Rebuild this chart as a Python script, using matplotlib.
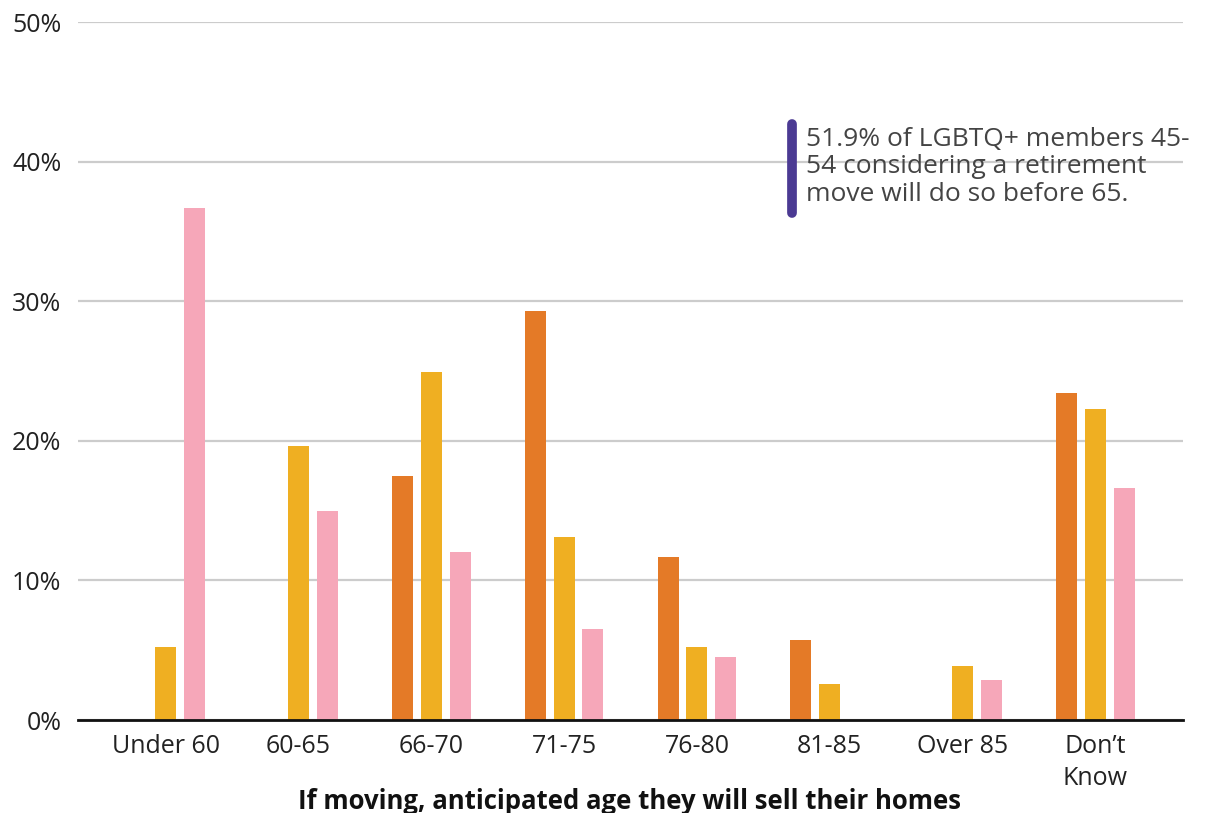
import matplotlib
matplotlib.use("Agg")
import matplotlib.pyplot as plt
import numpy as np

categories = ["Under 60", "60-65", "66-70", "71-75", "76-80", "81-85", "Over 85", "Don\u2019t\nKnow"]
series_orange = [0, 0, 17.5, 29.3, 11.7, 5.7, 0, 23.4]
series_gold = [5.2, 19.6, 24.9, 13.1, 5.2, 2.6, 3.9, 22.3]
series_pink = [36.7, 15.0, 12.0, 6.5, 4.5, 0, 2.9, 16.6]
yticks = [0, 10, 20, 30, 40, 50]
ytick_labels = ["0%", "10%", "20%", "30%", "40%", "50%"]

colors = ["#E47A27", "#EFAF22", "#F6A7B9"]
font = ["Open Sans", "DejaVu Sans"]

fig = plt.figure(figsize=(12.25, 8.13), dpi=100)
ax = fig.add_axes([78/1225, 1 - 720/813, (1183-78)/1225, (720-22)/813])

x = np.arange(len(categories))
off = 0.217
w = 0.158
for i, (vals, c) in enumerate(zip([series_orange, series_gold, series_pink], colors)):
    ax.bar(x + (i - 1) * off, vals, width=w, color=c, zorder=3)

ax.set_xlim(-0.66, len(categories) - 1 + 0.66)
ax.set_ylim(0, 50)
ax.set_yticks(yticks)
ax.set_yticklabels(ytick_labels, family=font, fontsize=18, color="#222222")
ax.set_xticks(x)
ax.set_xticklabels(categories, family=font, fontsize=18, color="#222222", linespacing=1.35)
ax.tick_params(axis="both", length=0)
ax.tick_params(axis="y", pad=12)
ax.tick_params(axis="x", pad=10)
ax.yaxis.grid(True, color="#CCCCCC", linewidth=1.6, zorder=0)
ax.set_axisbelow(True)
for s in ["top", "right", "left"]:
    ax.spines[s].set_visible(False)
ax.spines["bottom"].set_color("#111111")
ax.spines["bottom"].set_linewidth(2)
ax.spines["bottom"].set_zorder(4)

fig.text(630/1225, 1 - 801/813, "If moving, anticipated age they will sell their homes",
         family=font, fontsize=18.5, fontweight="bold", color="#111111",
         ha="center", va="center")

# annotation
fig.add_artist(plt.Line2D([792/1225, 792/1225], [1 - 124/813, 1 - 213/813],
                          color="#4B3A93", linewidth=7, solid_capstyle="round"))
fig.text(806/1225, 1 - 127/813,
         "51.9% of LGBTQ+ members 45-\n54 considering a retirement\nmove will do so before 65.",
         family=font, fontsize=19, color="#444444", va="top", ha="left", linespacing=1.13)

fig.savefig("out.png", dpi=100)
